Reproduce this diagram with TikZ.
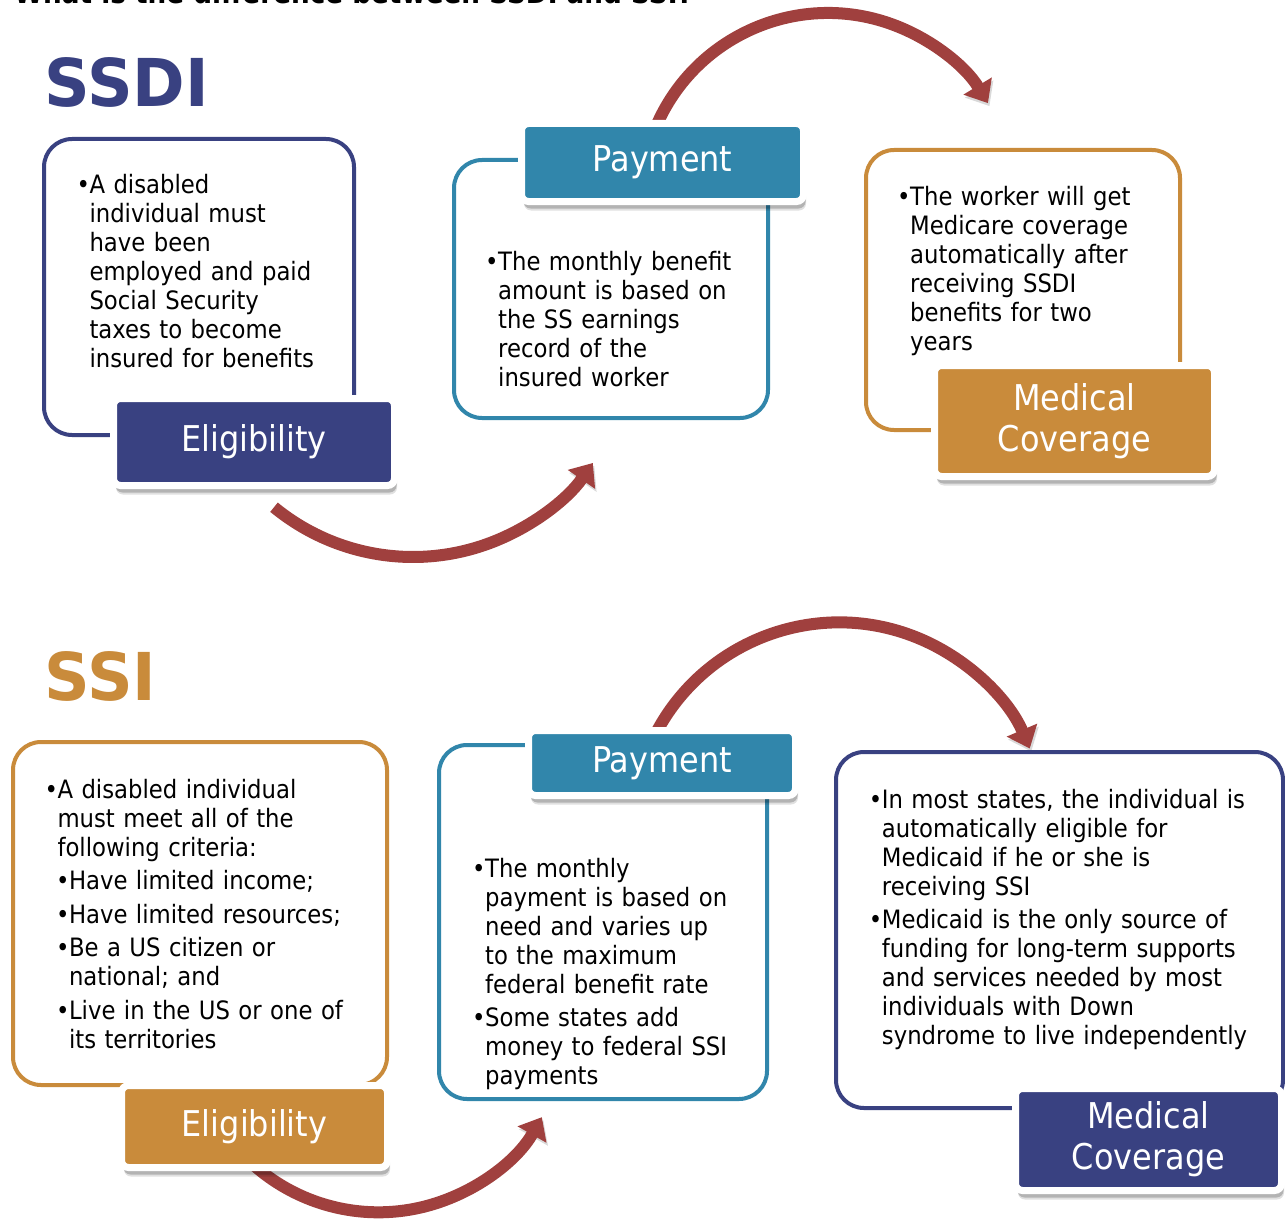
\documentclass[tikz,border=0pt]{standalone}
\usepackage{fontspec}
\setmainfont[FakeStretch=0.9]{DejaVu Sans}
\newfontfamily\headfont[FakeStretch=0.96]{DejaVu Sans}
\usetikzlibrary{arrows.meta,shadows,calc}
\definecolor{ssnavy}{RGB}{57,65,129}
\definecolor{ssgold}{RGB}{201,139,59}
\definecolor{ssteal}{RGB}{49,134,171}
\definecolor{ssred}{RGB}{160,64,62}
\newcommand{\bitem}[1]{\setlength{\parskip}{4.5pt}\leavevmode\hangindent=13pt\hangafter=1\makebox[13pt][l]{\textbullet}#1\par}
\newcommand{\sitem}[1]{\setlength{\parskip}{4.5pt}\leavevmode\hangindent=24.5pt\hangafter=1\hspace*{11.5pt}\makebox[13pt][l]{\textbullet}#1\par}

\begin{document}
\begin{tikzpicture}[x=1pt, y=-1pt,
    flow/.style={draw=ssred, line width=12pt, -{Triangle[width=32pt,length=20pt]},
      preaction={draw=black, opacity=.15, transform canvas={xshift=1.5pt,yshift=-3pt}}},
    txtbox/.style={rectangle, rounded corners=28pt, line width=4pt, fill=white},
    lbl/.style={rectangle, rounded corners=7pt, draw=white, line width=7pt, inner sep=0pt,
      text=white, align=center, font=\fontsize{35.5}{41}\selectfont,
      drop shadow={shadow xshift=2.5pt, shadow yshift=-9pt, opacity=.12, fill=black},
      drop shadow={shadow xshift=2pt, shadow yshift=-7pt, opacity=.2, fill=black}},
    body/.style={anchor=base west, inner sep=0pt, text width=420pt,
      font=\fontsize{25.3}{29}\selectfont},
    heading/.style={anchor=base west, inner sep=0pt, font=\headfont\fontsize{66}{66}\selectfont\bfseries}]
  \useasboundingbox (0,0) rectangle (1285,1220);
  \node[anchor=base west, inner sep=0pt, font=\fontsize{29.2}{30}\selectfont\bfseries] (pageTitle) at (14,3.5) {What is the difference between SSDI and SSI?};

  % SSDI
  \node[heading, text=ssnavy] (ssdiHead) at (44,107) {SSDI};
  \draw[flow] ($(413,338)+(129.4:219)$) arc[start angle=-129.4, end angle=-34.8, radius=219pt];
  \draw[flow] ($(828,200)+(-160:187)$) arc[start angle=160, end angle=31.2, radius=187pt];
  \node[txtbox, draw=ssnavy, minimum width=310pt, minimum height=296pt] (ssdiElig) at (199,287) {};
  \node[txtbox, draw=ssteal, minimum width=314pt, minimum height=258pt] (ssdiPay) at (611,289) {};
  \node[txtbox, draw=ssgold, minimum width=314pt, minimum height=280pt] (ssdiMed) at (1023,290) {};
  \node[body] (ssdiEligTxt) at (76.3,193.3) {\bitem{A disabled\newline individual must\newline have been\newline employed and paid\newline Social Security\newline taxes to become\newline insured for benefits}};
  \node[body] (ssdiPayTxt) at (485,270) {\bitem{The monthly benefit\newline amount is based on\newline the SS earnings\newline record of the\newline insured worker}};
  \node[body] (ssdiMedTxt) at (897,205) {\bitem{The worker will get\newline Medicare coverage\newline automatically after\newline receiving SSDI\newline benefits for two\newline years}};
  \node[lbl, fill=ssnavy, minimum width=281pt, minimum height=87pt] (ssdiEligLbl) at (254,442) {Eligibility};
  \node[lbl, fill=ssteal, minimum width=282pt, minimum height=78pt] (ssdiPayLbl) at (662.5,162.5) {Payment};
  \node[lbl, fill=ssgold, minimum width=280pt, minimum height=111pt] (ssdiMedLbl) at (1074.5,421) {Medical\\Coverage};

  % SSI
  \node[heading, text=ssgold] (ssiHead) at (44,700) {SSI};
  \draw[flow] ($(378.4,1024.3)+(135:188)$) arc[start angle=-135, end angle=-29.6, radius=188pt];
  \draw[flow] ($(839.2,829.4)+(-155:207)$) arc[start angle=155, end angle=23, radius=207pt];
  \node[txtbox, draw=ssgold, minimum width=374pt, minimum height=343pt] (ssiElig) at (200,913.5) {};
  \node[txtbox, draw=ssteal, minimum width=328pt, minimum height=354pt] (ssiPay) at (603,922) {};
  \node[txtbox, draw=ssnavy, minimum width=447pt, minimum height=356pt] (ssiMed) at (1059.5,930) {};
  \node[body] (ssiEligTxt) at (44.3,798.3) {\bitem{A disabled individual\newline must meet all of the\newline following criteria:}\sitem{Have limited income;}\sitem{Have limited resources;}\sitem{Be a US citizen or\newline national; and}\sitem{Live in the US or one of\newline its territories}};
  \node[body] (ssiPayTxt) at (472,877.3) {\bitem{The monthly\newline payment is based on\newline need and varies up\newline to the maximum\newline federal benefit rate}\bitem{Some states add\newline money to federal SSI\newline payments}};
  \node[body] (ssiMedTxt) at (868.7,808.3) {\bitem{In most states, the individual is\newline automatically eligible for\newline Medicaid if he or she is\newline receiving SSI}\bitem{Medicaid is the only source of\newline funding for long-term supports\newline and services needed by most\newline individuals with Down\newline syndrome to live independently}};
  \node[lbl, fill=ssgold, minimum width=266pt, minimum height=82pt] (ssiEligLbl) at (254.5,1126.5) {Eligibility};
  \node[lbl, fill=ssteal, minimum width=267pt, minimum height=65pt] (ssiPayLbl) at (662,763) {Payment};
  \node[lbl, fill=ssnavy, minimum width=266pt, minimum height=102pt] (ssiMedLbl) at (1148.5,1139.5) {Medical\\Coverage};
\end{tikzpicture}
\end{document}
